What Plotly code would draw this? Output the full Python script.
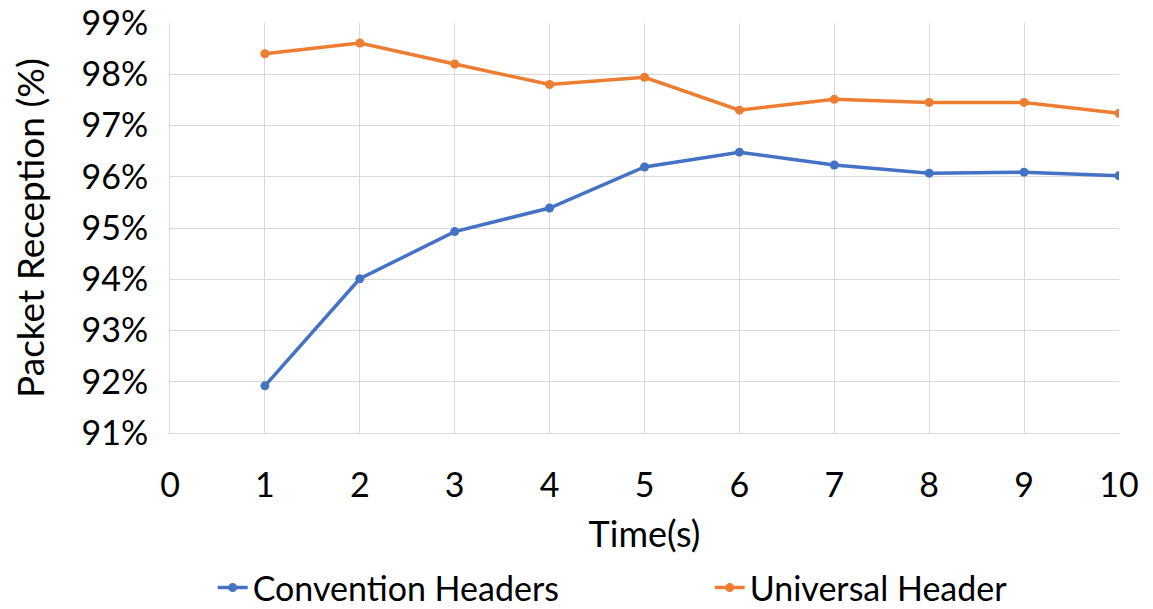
import plotly.graph_objects as go

time_s = [1, 2, 3, 4, 5, 6, 7, 8, 9, 10]
convention_headers = [0.9192, 0.9401, 0.9493, 0.9539, 0.9619, 0.9648, 0.9623, 0.9607, 0.9609, 0.9602]
universal_header = [0.9840, 0.9861, 0.9820, 0.9780, 0.9794, 0.9730, 0.9751, 0.9745, 0.9745, 0.9724]
y_ticks = [0.91, 0.92, 0.93, 0.94, 0.95, 0.96, 0.97, 0.98, 0.99]
x_ticks = list(range(0, 11))

FONT = "Lato"
fig = go.Figure()
fig.add_trace(go.Scatter(x=time_s, y=convention_headers, name="Convention Headers",
                         mode="lines+markers", line=dict(color="#4472C4", width=3.5),
                         marker=dict(size=9, color="#4472C4"), legendwidth=452))
fig.add_trace(go.Scatter(x=time_s, y=universal_header, name="Universal Header",
                         mode="lines+markers", line=dict(color="#ED7D31", width=3.5),
                         marker=dict(size=9, color="#ED7D31")))

fig.update_layout(
    width=1153, height=609,
    margin=dict(l=170, r=34, t=23, b=176, autoexpand=False),
    paper_bgcolor="white", plot_bgcolor="white",
    font=dict(family=FONT, size=34, color="#000000"),
    xaxis=dict(range=[0, 10], tickvals=x_ticks, showgrid=True, gridcolor="#d9d9d9",
               gridwidth=1, showline=True, linecolor="#d9d9d9", zeroline=False,
               ticks="", ticklabelstandoff=22, automargin=False,
               title=dict(text="Time(s)", font=dict(size=36), standoff=19)),
    yaxis=dict(range=[0.91, 0.99], tickvals=y_ticks, tickformat=".0%", showgrid=True,
               gridcolor="#d9d9d9", gridwidth=1, showline=True, linecolor="#d9d9d9",
               zeroline=False, ticks="", ticklabelstandoff=14, automargin=False,
               title=dict(text="Packet Reception (%)", font=dict(size=37), standoff=25)),
    legend=dict(orientation="h", x=0.045, xanchor="left", y=-0.378, yanchor="middle",
                font=dict(size=34), itemwidth=30, tracegroupgap=0),
)
fig.write_html("out.html")
